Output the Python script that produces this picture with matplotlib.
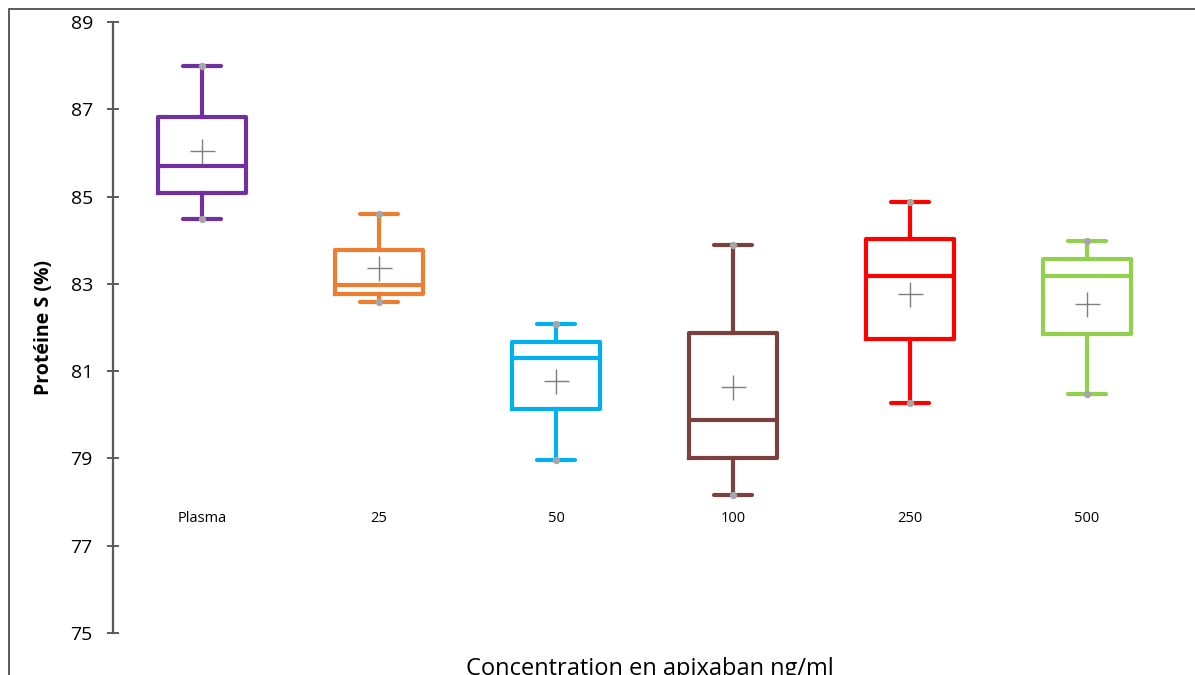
import matplotlib
matplotlib.use("Agg")
import matplotlib.pyplot as plt
from matplotlib.patches import Rectangle

# valeurs
groupes = ['Plasma', '25', '50', '100', '250', '500']
minimum = [84.49, 82.58, 78.96, 78.16, 80.27, 80.48]
q1 = [85.08, 82.77, 80.13, 79.01, 81.74, 81.85]
mediane = [85.70, 82.97, 81.30, 79.88, 83.18, 83.18]
q3 = [86.82, 83.78, 81.67, 81.87, 84.03, 83.57]
maximum = [87.99, 84.60, 82.08, 83.89, 84.88, 83.98]
moyenne = [86.04, 83.36, 80.77, 80.64, 82.77, 82.54]
couleurs = ['#7030A0', '#ED7D31', '#00B0F0', '#7B4141', '#FF0000', '#92D050']

plt.rcParams['font.family'] = ['Open Sans', 'DejaVu Sans']

fig = plt.figure(figsize=(11.95, 6.75), dpi=100)
ax = fig.add_axes([113/1195, 1 - 633/675, 1 - 113/1195, (633 - 22)/675])

stats = []
for i, g in enumerate(groupes):
    stats.append({'label': g, 'whislo': minimum[i], 'q1': q1[i], 'med': mediane[i],
                  'q3': q3[i], 'whishi': maximum[i], 'mean': moyenne[i]})

pos = list(range(1, len(groupes) + 1))
bp = ax.bxp(stats, positions=pos, widths=0.5, showmeans=True, showfliers=False,
            meanprops=dict(marker='+', markersize=18, markeredgecolor='#7F7F7F',
                           markeredgewidth=1.0))

for i, c in enumerate(couleurs):
    bp['boxes'][i].set(color=c, linewidth=3)
    bp['medians'][i].set(color=c, linewidth=3)
    for j in (2*i, 2*i + 1):
        bp['whiskers'][j].set(color=c, linewidth=3)
        bp['caps'][j].set(color=c, linewidth=3, solid_capstyle='round')
        bp['caps'][j].set_xdata([pos[i] - 0.105, pos[i] + 0.105])

# points gris aux extrémités des moustaches
ax.scatter(pos, minimum, s=18, color='#A6A6A6', zorder=5)
ax.scatter(pos, maximum, s=18, color='#A6A6A6', zorder=5)

ax.set_ylim(75, 89)
ax.set_xlim(1 - 89/177, 1 + (1195 - 202)/177)
ax.set_yticks(range(75, 90, 2))
ax.tick_params(axis='y', direction='inout', length=9, width=1.2, color='#404040',
               labelsize=14, pad=10)
ax.set_xticks([])
for s in ('top', 'right', 'bottom'):
    ax.spines[s].set_visible(False)
ax.spines['left'].set_color('#595959')
ax.spines['left'].set_linewidth(1.6)

for p, g in zip(pos, groupes):
    ax.text(p, 77.62, g, ha='center', va='center', fontsize=10.5)

ax.set_ylabel('Protéine S (%)', fontsize=14, fontweight='bold', labelpad=12)
fig.text(650/1195, 1 - 669/675, 'Concentration en apixaban ng/ml', ha='center',
         va='center', fontsize=17)

fig.patches.append(Rectangle((9/1195, -0.1), 2, 1 - 9/675 + 0.1, fill=False,
                             edgecolor='#404040', linewidth=1.2,
                             transform=fig.transFigure, figure=fig))

fig.savefig('out.png', dpi=100)
